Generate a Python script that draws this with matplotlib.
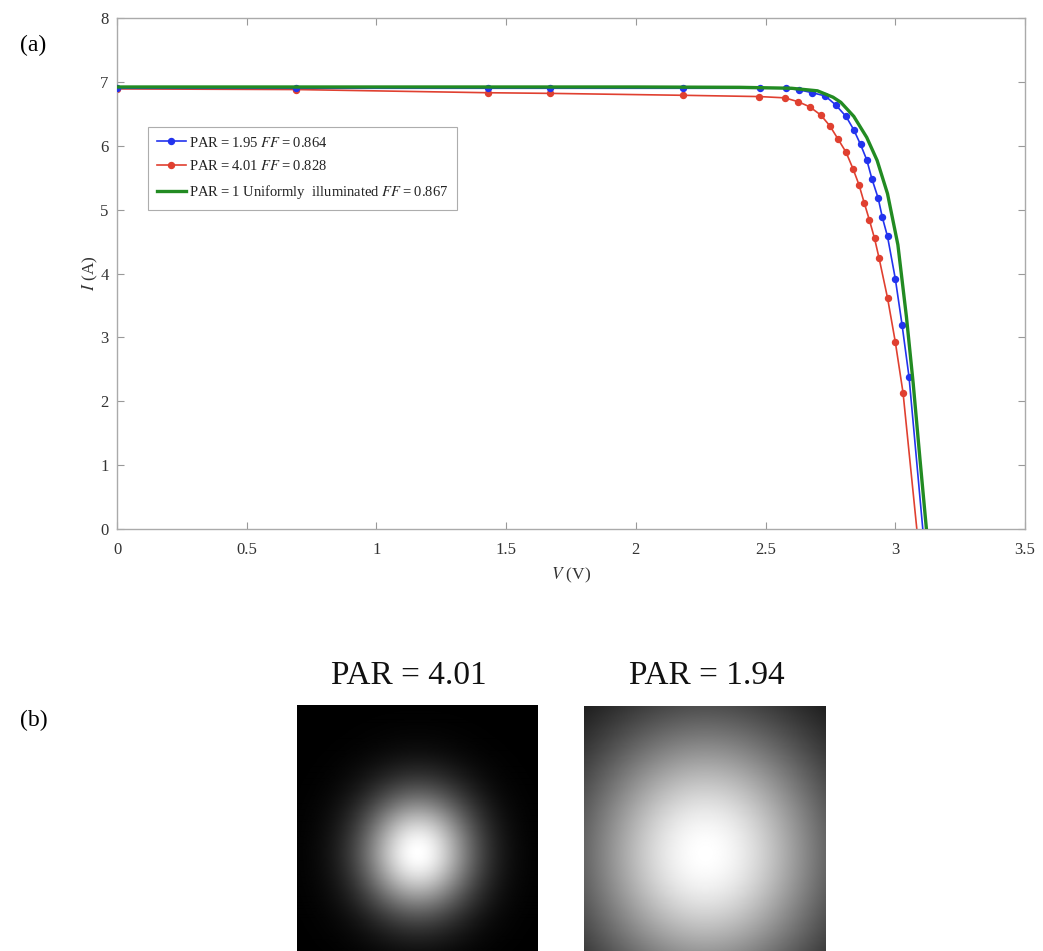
import numpy as np
import matplotlib
matplotlib.use("Agg")
import matplotlib.pyplot as plt

plt.rcParams['font.family'] = ['Liberation Serif', 'DejaVu Serif']
plt.rcParams['mathtext.fontset'] = 'stix'

# ---- data ----
v_blue = [0.0, 0.69, 1.43, 1.67, 2.18, 2.48, 2.58, 2.63, 2.68, 2.73, 2.77, 2.81,
          2.84, 2.866, 2.89, 2.91, 2.934, 2.95, 2.97, 3.0, 3.026, 3.053, 3.106]
i_blue = [6.90, 6.90, 6.90, 6.90, 6.90, 6.90, 6.90, 6.875, 6.83, 6.78, 6.64, 6.46,
          6.25, 6.02, 5.78, 5.48, 5.18, 4.88, 4.58, 3.92, 3.20, 2.38, 0.0]

v_red = [0.0, 0.69, 1.43, 1.67, 2.18, 2.476, 2.574, 2.625, 2.67, 2.713, 2.748, 2.78,
         2.81, 2.837, 2.86, 2.88, 2.90, 2.92, 2.937, 2.97, 3.0, 3.03, 3.083]
i_red = [6.89, 6.88, 6.83, 6.82, 6.79, 6.77, 6.75, 6.69, 6.61, 6.48, 6.31, 6.10,
         5.90, 5.64, 5.39, 5.11, 4.84, 4.55, 4.25, 3.62, 2.93, 2.13, 0.0]

v_green = [0.0, 0.5, 1.0, 1.5, 2.0, 2.4, 2.6, 2.7, 2.73, 2.76, 2.79, 2.84, 2.89,
           2.93, 2.97, 3.01, 3.043, 3.069, 3.095, 3.12]
i_green = [6.92, 6.92, 6.92, 6.92, 6.92, 6.915, 6.90, 6.86, 6.81, 6.76, 6.68, 6.46,
           6.13, 5.77, 5.25, 4.45, 3.32, 2.28, 1.1, 0.0]

labels = ["PAR\u2009=\u20091.95 $FF$\u2009=\u20090.864",
          "PAR\u2009=\u20094.01 $FF$\u2009=\u20090.828",
          "PAR\u2009=\u20091 Uniformly  illuminated $FF$\u2009=\u20090.867"]

x_ticks = [0, 0.5, 1, 1.5, 2, 2.5, 3, 3.5]
x_ticklabels = ["0", "0.5", "1", "1.5", "2", "2.5", "3", "3.5"]
y_ticks = [0, 1, 2, 3, 4, 5, 6, 7, 8]

par_values = ["PAR = 4.01", "PAR = 1.94"]
beam_sigma = [0.165, 0.37]      # relative beam widths of the two spots

# ---- figure ----
W, H = 1043, 951
fig = plt.figure(figsize=(W / 100, H / 100), dpi=100)
fig.patch.set_facecolor('white')

def ax_rect(x0, y0, x1, y1):
    return [x0 / W, 1 - y1 / H, (x1 - x0) / W, (y1 - y0) / H]

ax = fig.add_axes(ax_rect(117, 18, 1025, 529))
ax.plot(v_blue, i_blue, color='#2233ee', lw=1.2, marker='o', ms=4.3,
        markevery=list(range(len(v_blue) - 1)), label=labels[0], zorder=3)
ax.plot(v_red, i_red, color='#e04030', lw=1.2, marker='o', ms=4.3,
        markevery=list(range(len(v_red) - 1)), label=labels[1], zorder=2)
ax.plot(v_green, i_green, color='#228b22', lw=2.4, label=labels[2], zorder=4)

ax.set_xlim(0, 3.5)
ax.set_ylim(0, 8)
ax.set_xticks(x_ticks)
ax.set_xticklabels(x_ticklabels)
ax.set_yticks(y_ticks)
ax.tick_params(axis='both', direction='in', top=True, right=True, length=5, width=0.8,
               colors='#999999', labelcolor='#333333', labelsize=12)
ax.tick_params(axis='x', pad=9)
ax.tick_params(axis='y', pad=6)
for s in ax.spines.values():
    s.set_color('#aaaaaa')
    s.set_linewidth(1.0)
ax.set_xlabel('$V$ (V)', fontsize=12.5, color='#333333', labelpad=6)
ax.set_ylabel('$I$ (A)', fontsize=12.5, color='#333333', labelpad=0)

leg = ax.legend(loc='upper left', bbox_to_anchor=(0.034, 0.787), fontsize=10.5,
                frameon=True, fancybox=False, handlelength=2.0, handletextpad=0.2,
                labelspacing=0.66, borderpad=0.6, borderaxespad=0)
leg.get_frame().set_edgecolor('#999999')
leg.get_frame().set_linewidth(0.8)
for t in leg.get_texts():
    t.set_color('#222222')

fig.text(20 / W, 1 - 45 / H, '(a)', fontsize=17, va='center', ha='left')
fig.text(20 / W, 1 - 720 / H, '(b)', fontsize=17, va='center', ha='left')

# ---- beam images ----
n = 241
yy, xx = np.mgrid[0:n, 0:n]
cx, cy = 0.5 * n, 0.565 * n
r = np.hypot(xx - cx, yy - cy) / n
img_rects = [(297, 705, 538, 965), (584, 706, 826, 966)]
title_x = [409, 707]
for k in range(2):
    img = np.exp(-r ** 2 / (2 * beam_sigma[k] ** 2))
    x0, y0, x1, y1 = img_rects[k]
    iax = fig.add_axes(ax_rect(x0, y0, x1, y1))
    iax.imshow(img, cmap='gray', vmin=0, vmax=1, aspect='auto', interpolation='bilinear')
    iax.set_axis_off()
    fig.text(title_x[k] / W, 1 - 676 / H, par_values[k], fontsize=24,
             ha='center', va='center', color='#111111')

fig.savefig('out.png', dpi=100, facecolor='white')
